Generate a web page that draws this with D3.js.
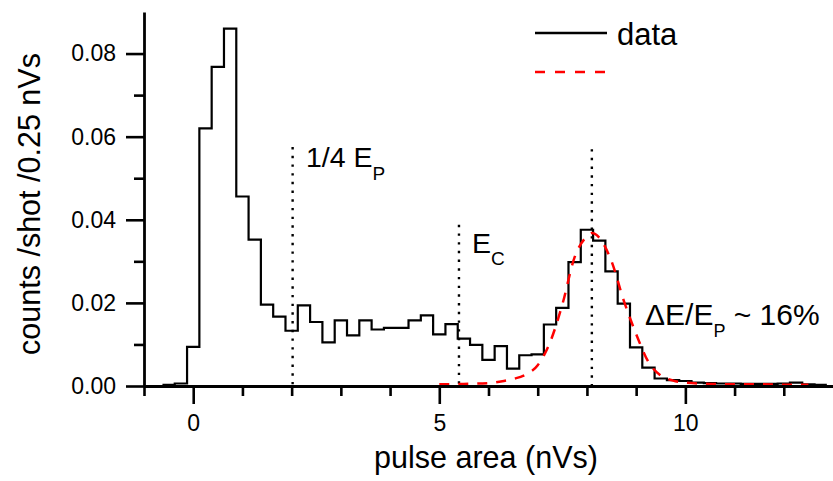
<!DOCTYPE html>
<html><head><meta charset="utf-8">
<script src="https://cdn.jsdelivr.net/npm/d3@7"></script>
<style>body{margin:0;background:#fff}svg{display:block}text{font-family:"Liberation Sans",Arial,Helvetica,sans-serif;fill:#000}</style>
</head><body><svg id="c" width="833" height="481"></svg>
<script>
// histogram bins (centers, nVs) and counts/shot/0.25 nVs
const binCenters = [-0.5,-0.25,0,0.25,0.5,0.75,1,1.25,1.5,1.75,2,2.25,2.5,2.75,3,3.25,3.5,3.75,4,4.25,4.5,4.75,5,5.25,5.5,5.75,6,6.25,6.5,6.75,7,7.25,7.5,7.75,8,8.25,8.5,8.75,9,9.25,9.5,9.75,10,10.25,10.5,10.75,11,11.25,11.5,11.75,12,12.25,12.5,12.75];
const counts = [0.0003,0.0006,0.0094,0.0620,0.0768,0.0860,0.0456,0.0352,0.0196,0.0167,0.0133,0.0194,0.0154,0.0105,0.0158,0.0122,0.0158,0.0136,0.0140,0.0140,0.0158,0.0170,0.0124,0.0149,0.0114,0.0099,0.0063,0.0096,0.0042,0.0074,0.0076,0.0148,0.0188,0.0298,0.0376,0.0350,0.0276,0.0198,0.0093,0.0044,0.0018,0.0014,0.0012,0.0008,0.0007,0.0006,0.0006,0.0005,0.0005,0.0005,0.0006,0.0008,0.0004,0.0003];
const binWidth = 0.25;
// fit curve
const fitX = [5.0,5.5,6.0,6.25,6.5,6.75,7.0,7.25,7.5,7.75,8.0,8.1,8.25,8.5,8.75,9.0,9.25,9.5,9.75,10.0,10.5,11.0,11.5,12.0,12.5];
const fitY = [0.0004,0.0005,0.0007,0.0011,0.0017,0.0027,0.0050,0.0105,0.0196,0.0310,0.0360,0.0368,0.0357,0.0300,0.0205,0.0125,0.0058,0.0025,0.0013,0.0008,0.0005,0.0004,0.0004,0.0003,0.0003];
// axes
const xMajorTicks = [0,5,10];
const xMinorTicks = [-1,1,2,3,4,6,7,8,9,11,12];
const yMajorTicks = [0,0.02,0.04,0.06,0.08];
const yMinorTicks = [0.01,0.03,0.05,0.07];
// dotted marker lines
const markerX = [2.02,5.4,8.1];
const markerTop = [0.0575,0.0388,0.057];

const svg = d3.select("#c");
const x = d3.scaleLinear().domain([-1,13]).range([144,833]);
const y = d3.scaleLinear().domain([0,0.09]).range([386,12]);

// step path points
const stepPts = [];
binCenters.forEach((c,i)=>{stepPts.push([c-binWidth/2,counts[i]]);stepPts.push([c+binWidth/2,counts[i]]);});
const line = d3.line().x(d=>x(d[0])).y(d=>y(d[1]));

// markers
svg.selectAll("line.mk").data(markerX).enter().append("line")
  .attr("x1",d=>x(d)).attr("x2",d=>x(d))
  .attr("y1",(d,i)=>y(markerTop[i])).attr("y2",y(0))
  .attr("stroke","#000").attr("stroke-width",2.4).attr("stroke-dasharray","2.4,6.3");

svg.append("path").attr("d",line(stepPts)).attr("fill","none").attr("stroke","#000").attr("stroke-width",2.2);

const fitLine = d3.line().x((d,i)=>x(fitX[i])).y(d=>y(d)).curve(d3.curveMonotoneX);
svg.append("path").attr("d",fitLine(fitY)).attr("fill","none").attr("stroke","#ff0000").attr("stroke-width",2.5).attr("stroke-dasharray","10,9");

// axes
const axStyle = g=>{g.select(".domain").attr("stroke","#000").attr("stroke-width",2.8);g.selectAll(".tick line").attr("stroke","#000").attr("stroke-width",2.6);};
const gx = svg.append("g").attr("transform",`translate(0,${y(0)})`);
gx.call(d3.axisBottom(x).tickValues(xMajorTicks).tickSize(18).tickSizeOuter(0).tickFormat(d3.format("d"))).call(axStyle);
gx.selectAll(".tick text").attr("font-size",23).attr("y",29).attr("dy","0.71em").attr("fill","#000").attr("font-family",null);
const gxm = svg.append("g").attr("transform",`translate(0,${y(0)})`);
gxm.call(d3.axisBottom(x).tickValues(xMinorTicks).tickSize(10).tickFormat("")).call(axStyle);
gxm.select(".domain").remove();

const gy = svg.append("g").attr("transform",`translate(${x(-1)},0)`);
gy.call(d3.axisLeft(y).tickValues(yMajorTicks).tickSize(18).tickSizeOuter(0).tickFormat(d3.format(".2f"))).call(axStyle);
gy.selectAll(".tick text").attr("font-size",23).attr("x",-28).attr("fill","#000").attr("font-family",null);
const gym = svg.append("g").attr("transform",`translate(${x(-1)},0)`);
gym.call(d3.axisLeft(y).tickValues(yMinorTicks).tickSize(10).tickFormat("")).call(axStyle);
gym.select(".domain").remove();

// axis titles
svg.append("text").attr("x",486).attr("y",468).attr("text-anchor","middle").attr("font-size",30.5).text("pulse area (nVs)");
svg.append("text").attr("transform","translate(40,204) rotate(-90)").attr("text-anchor","middle").attr("font-size",30.5).text("counts /shot /0.25 nVs");

// annotations
const t1 = svg.append("text").attr("x",306).attr("y",167).attr("font-size",28.5);
t1.append("tspan").text("1/4 E");
t1.append("tspan").attr("font-size",19).attr("dy",13).text("P");
const t2 = svg.append("text").attr("x",472).attr("y",253).attr("font-size",28.5);
t2.append("tspan").text("E");
t2.append("tspan").attr("font-size",19).attr("dy",12).text("C");
const t3 = svg.append("text").attr("x",645).attr("y",325).attr("font-size",30);
t3.append("tspan").text("\u0394E/E");
t3.append("tspan").attr("font-size",18).attr("dy",12).text("P");
t3.append("tspan").attr("dy",-12).text(" ~ 16%");

// legend
svg.append("line").attr("x1",535).attr("x2",607).attr("y1",33).attr("y2",33).attr("stroke","#000").attr("stroke-width",2.4);
svg.append("text").attr("x",617).attr("y",45).attr("font-size",31).text("data");
svg.append("line").attr("x1",535).attr("x2",607).attr("y1",72).attr("y2",72).attr("stroke","#ff0000").attr("stroke-width",2.5).attr("stroke-dasharray","10,10");
</script></body></html>
